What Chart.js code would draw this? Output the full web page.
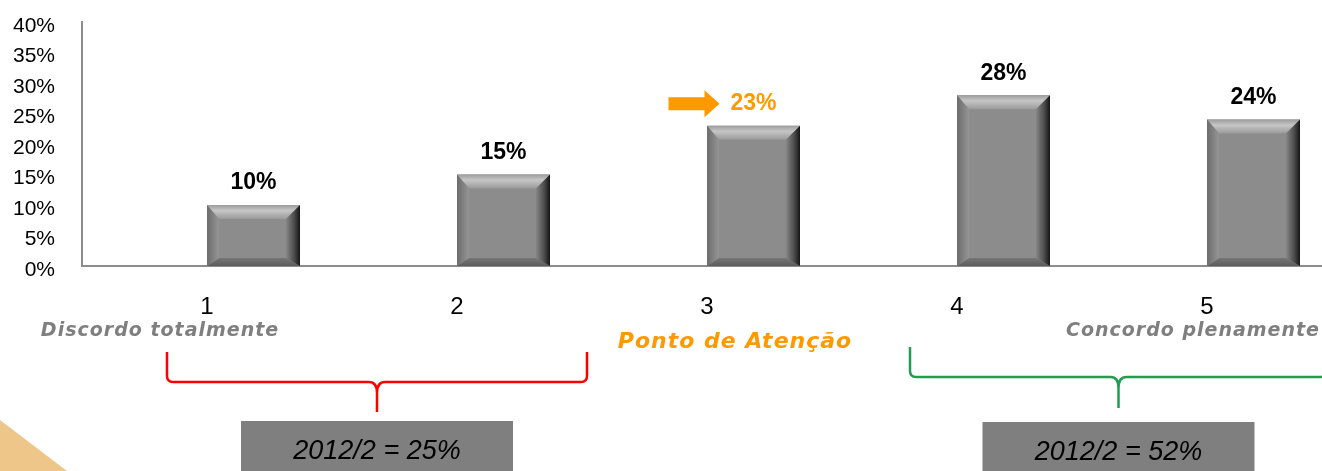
<!DOCTYPE html>
<html lang="pt-BR">
<head>
<meta charset="UTF-8">
<title>Avaliação 2012/2</title>
<script src="https://cdn.jsdelivr.net/npm/chart.js"></script>
<style>
  html, body { margin: 0; padding: 0; background: #fff; overflow: hidden; }
  .quadro { width: 1340px; height: 471px; }
</style>
</head>
<body>
<div class="quadro"><canvas id="escala" width="1340" height="471"></canvas></div>
<script>
// notas da escala e percentual de respostas em cada uma
const notas = ['1', '2', '3', '4', '5'];
const percentuais = [10, 15, 23, 28, 24];
const escalaY = [0, 5, 10, 15, 20, 25, 30, 35, 40];
const periodo = '2012/2';
const extremos = ['Discordo totalmente', 'Concordo plenamente'];
const atencao = 'Ponto de Atenção';
const notaAtencao = 2; // índice da nota 3

const LARANJA = '#ff9900';
const fonte = '"Liberation Sans", Arial, sans-serif';
const fonteLegenda = '"DejaVu Sans", Verdana, sans-serif';

// relevo das barras (faces chanfradas por cima da cor base)
const bisel = {
  id: 'bisel',
  afterDatasetsDraw(chart) {
    const ctx = chart.ctx;
    chart.getDatasetMeta(1).data.forEach(bar => {
      const { x, y, base, width } = bar.getProps(['x', 'y', 'base', 'width'], true);
      const x0 = x - width / 2, x1 = x + width / 2, y0 = y, y1 = base;
      const t = 14, b = 8, l = 12, r = 14;
      const face = (pts, fill) => {
        ctx.beginPath();
        ctx.moveTo(pts[0][0], pts[0][1]);
        pts.slice(1).forEach(p => ctx.lineTo(p[0], p[1]));
        ctx.closePath();
        ctx.fillStyle = fill;
        ctx.fill();
      };
      ctx.save();
      let g = ctx.createLinearGradient(0, y0, 0, y0 + t);
      g.addColorStop(0, '#9c9c9c');
      g.addColorStop(0.4, '#c6c6c6');
      g.addColorStop(1, '#9a9a9a');
      face([[x0, y0], [x1, y0], [x1 - r, y0 + t], [x0 + l, y0 + t]], g);

      g = ctx.createLinearGradient(0, y1 - b, 0, y1);
      g.addColorStop(0, '#767676');
      g.addColorStop(1, '#5c5c5c');
      face([[x0, y1], [x1, y1], [x1 - r, y1 - b], [x0 + l, y1 - b]], g);

      g = ctx.createLinearGradient(x0, 0, x0 + l, 0);
      g.addColorStop(0, '#6c6c6c');
      g.addColorStop(1, '#959595');
      face([[x0, y0], [x0 + l, y0 + t], [x0 + l, y1 - b], [x0, y1]], g);

      g = ctx.createLinearGradient(x1 - r, 0, x1, 0);
      g.addColorStop(0, '#868686');
      g.addColorStop(0.6, '#4a4a4a');
      g.addColorStop(1, '#141414');
      face([[x1, y0], [x1 - r, y0 + t], [x1 - r, y1 - b], [x1, y1]], g);
      ctx.restore();
    });
  }
};

// percentuais acima das barras, com a seta na nota de atenção
const rotulos = {
  id: 'rotulos',
  afterDatasetsDraw(chart) {
    const ctx = chart.ctx;
    const ds = chart.data.datasets[1];
    ctx.save();
    ctx.font = 'bold 23px ' + fonte;
    ctx.textAlign = 'center';
    ctx.textBaseline = 'middle';
    chart.getDatasetMeta(1).data.forEach((bar, i) => {
      const ly = bar.y - 22;
      ctx.fillStyle = i === notaAtencao ? LARANJA : '#000';
      ctx.fillText(ds.data[i] + '%', bar.x, ly);
      if (i === notaAtencao) {
        const a = bar.x - 85;
        ctx.fillStyle = LARANJA;
        ctx.beginPath();
        ctx.moveTo(a, ly - 6.5);
        ctx.lineTo(a + 36, ly - 6.5);
        ctx.lineTo(a + 36, ly - 13.5);
        ctx.lineTo(a + 51, ly);
        ctx.lineTo(a + 36, ly + 13.5);
        ctx.lineTo(a + 36, ly + 6.5);
        ctx.lineTo(a, ly + 6.5);
        ctx.closePath();
        ctx.fill();
      }
    });
    ctx.restore();
  }
};

function chave(ctx, xl, xr, yTop, yLine, yTip, cor) {
  const xm = (xl + xr) / 2;
  ctx.save();
  ctx.strokeStyle = cor;
  ctx.lineWidth = 2.5;
  ctx.lineJoin = 'round';
  ctx.beginPath();
  ctx.moveTo(xl, yTop);
  ctx.lineTo(xl, yLine - 6);
  ctx.quadraticCurveTo(xl, yLine, xl + 6, yLine);
  ctx.lineTo(xm - 8, yLine);
  ctx.quadraticCurveTo(xm, yLine, xm, yLine + 11);
  ctx.lineTo(xm, yTip);
  ctx.moveTo(xm, yLine + 11);
  ctx.quadraticCurveTo(xm, yLine, xm + 8, yLine);
  ctx.lineTo(xr - 6, yLine);
  ctx.quadraticCurveTo(xr, yLine, xr, yLine - 6);
  ctx.lineTo(xr, yTop);
  ctx.stroke();
  ctx.restore();
  return xm;
}

function resumo(ctx, xm, top, texto) {
  ctx.save();
  ctx.fillStyle = '#7f7f7f';
  ctx.fillRect(xm - 136, top, 272, 60);
  ctx.fillStyle = '#000';
  ctx.font = 'italic 27px ' + fonte;
  ctx.textAlign = 'center';
  ctx.textBaseline = 'middle';
  ctx.fillText(texto, xm, top + 30);
  ctx.restore();
}

// legendas dos extremos, chaves e totais agrupados
const anotacoes = {
  id: 'anotacoes',
  afterDraw(chart) {
    const ctx = chart.ctx;
    const sx = chart.scales.x;
    const c = notas.map((n, i) => sx.getPixelForValue(i));

    ctx.save();
    ctx.fillStyle = '#efc68a';
    ctx.beginPath();
    ctx.moveTo(0, 420);
    ctx.lineTo(67, 471);
    ctx.lineTo(0, 471);
    ctx.closePath();
    ctx.fill();

    ctx.textBaseline = 'middle';
    ctx.letterSpacing = '1px';
    ctx.font = 'italic bold 19px ' + fonteLegenda;
    ctx.fillStyle = '#7f7f7f';
    ctx.textAlign = 'center';
    ctx.fillText(extremos[0], c[0] - 47, 331);
    ctx.textAlign = 'left';
    ctx.fillText(extremos[1], c[4] - 141, 331);
    ctx.font = 'italic bold 22px ' + fonteLegenda;
    ctx.fillStyle = LARANJA;
    ctx.textAlign = 'center';
    ctx.fillText(atencao, c[2] + 28, 342);
    ctx.restore();

    const baixo = percentuais[0] + percentuais[1];
    const alto = percentuais[3] + percentuais[4];
    const xr = chave(ctx, c[0] - 40, c[1] + 130, 352, 382, 412, '#ff0000');
    const xg = chave(ctx, c[3] - 47, c[4] + 120, 347, 377, 408, '#1f9e50');
    resumo(ctx, xr, 421, periodo + ' = ' + baixo + '%');
    resumo(ctx, xg, 422, periodo + ' = ' + alto + '%');
  }
};

new Chart(document.getElementById('escala').getContext('2d'), {
  type: 'bar',
  data: {
    labels: notas,
    datasets: [
      // vaga vazia à esquerda de cada nota
      { label: '', data: notas.map(() => null) },
      { label: periodo, data: percentuais, backgroundColor: '#8c8c8c', borderWidth: 0 }
    ]
  },
  options: {
    responsive: false,
    animation: false,
    layout: { padding: { top: 22, right: 8, left: 0, bottom: 0 } },
    datasets: { bar: { categoryPercentage: 0.744, barPercentage: 1 } },
    plugins: { legend: { display: false }, tooltip: { enabled: false } },
    scales: {
      x: {
        grid: { display: false, drawTicks: false },
        border: { display: true, color: '#8c8c8c', width: 2 },
        ticks: { color: '#000', font: { family: fonte, size: 24 }, padding: 27, maxRotation: 0 },
        afterFit(s) { s.height = 205; }
      },
      y: {
        min: 0,
        max: 40,
        grid: { display: false, drawTicks: false },
        border: { display: true, color: '#8c8c8c', width: 2 },
        afterBuildTicks(s) { s.ticks = escalaY.map(v => ({ value: v })); },
        ticks: {
          color: '#000',
          font: { family: fonte, size: 21 },
          padding: 27,
          labelOffset: 4,
          callback: v => v + '%'
        },
        // o espaço à esquerda dos rótulos não deve empurrar a área do gráfico
        afterFit(s) {
          s.width = 82;
          s.paddingTop = 0;
          s.paddingBottom = 0;
        }
      }
    }
  },
  plugins: [bisel, rotulos, anotacoes]
});
</script>
</body>
</html>
